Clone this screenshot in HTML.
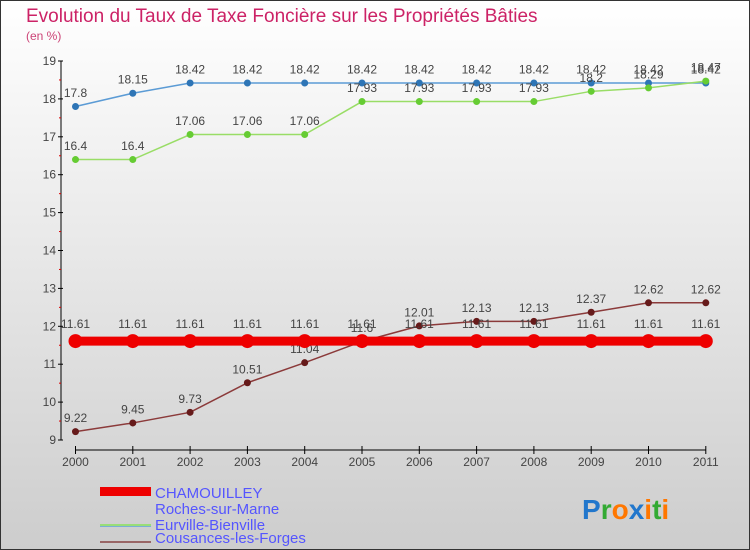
<!DOCTYPE html>
<html><head><meta charset="utf-8"><style>
body{margin:0;width:750px;height:550px;overflow:hidden}
svg{display:block;font-family:"Liberation Sans",sans-serif}
</style></head><body>
<svg width="750" height="550">
<defs><linearGradient id="bg" x1="0" y1="0" x2="0" y2="1"><stop offset="0" stop-color="#ffffff"/><stop offset="1" stop-color="#cdcdcd"/></linearGradient></defs>
<rect x="0.5" y="0.5" width="749" height="549" fill="url(#bg)" stroke="#333"/>
<text x="26" y="22" font-size="19" fill="#cc2266">Evolution du Taux de Taxe Foncière sur les Propriétés Bâties</text>
<text x="26" y="40" font-size="12" fill="#cc4477">(en %)</text>
<g id="axes"></g><g id="series"></g>
<g>
<rect x="100" y="487" width="51" height="9" fill="#ee0000"/>
<text x="155" y="498" font-size="15" fill="#5555ff">CHAMOUILLEY</text>
<line x1="100" y1="546" x2="151" y2="546" stroke="#7aaed6" stroke-width="2" transform="translate(0,-20)"/>
<text x="155" y="514" font-size="15" fill="#5555ff">Roches-sur-Marne</text>
<line x1="100" y1="528" x2="151" y2="528" stroke="#99dd77" stroke-width="2" transform="translate(0,-3)"/>
<text x="155" y="530" font-size="15" fill="#5555ff">Eurville-Bienville</text>
<line x1="100" y1="543" x2="151" y2="543" stroke="#996666" stroke-width="2" transform="translate(0,-1)"/>
<text x="155" y="543" font-size="15" fill="#5555ff">Cousances-les-Forges</text>
</g>
<text x="582" y="519" font-size="28" font-weight="bold"><tspan fill="#2277cc">P</tspan><tspan fill="#33aa33">r</tspan><tspan fill="#ff7700">o</tspan><tspan fill="#2277cc">x</tspan><tspan fill="#ff7700">i</tspan><tspan fill="#33aa33">t</tspan><tspan fill="#ff7700">i</tspan></text>
</svg>
<script>
const years=[2000,2001,2002,2003,2004,2005,2006,2007,2008,2009,2010,2011];
const yTicks=[9,10,11,12,13,14,15,16,17,18,19];
const chamouilley=[11.61,11.61,11.61,11.61,11.61,11.61,11.61,11.61,11.61,11.61,11.61,11.61];
const roches=[17.8,18.15,18.42,18.42,18.42,18.42,18.42,18.42,18.42,18.42,18.42,18.42];
const eurville=[16.4,16.4,17.06,17.06,17.06,17.93,17.93,17.93,17.93,18.2,18.29,18.47];
const cousances=[9.22,9.45,9.73,10.51,11.04,11.6,12.01,12.13,12.13,12.37,12.62,12.62];
const NS="http://www.w3.org/2000/svg";
const xs=i=>75.5+i*57.3;
const ys=v=>440-(v-9)*37.9;
function mk(t,a,p){const e=document.createElementNS(NS,t);for(const k in a)e.setAttribute(k,a[k]);p.appendChild(e);return e;}
const ax=document.getElementById('axes');
let yl=mk('line',{x1:61,y1:61,x2:61,y2:440,stroke:'#000'},ax);


yTicks.forEach(v=>{
 mk('line',{x1:58,y1:ys(v),x2:63,y2:ys(v),stroke:'#000'},ax);
 if(v<19) mk('line',{x1:59,y1:ys(v+0.5),x2:61,y2:ys(v+0.5),stroke:'#d00'},ax);
 const t=mk('text',{x:56,y:ys(v)+4,'font-size':12,fill:'#444','text-anchor':'end'},ax);
 t.textContent=v;
 
 
});
let xl=mk('line',{x1:75,y1:450,x2:706,y2:450,stroke:'#000'},ax);


years.forEach((y,i)=>{
 mk('line',{x1:xs(i),y1:446,x2:xs(i),y2:454,stroke:'#000'},ax);
 const t=mk('text',{x:xs(i),y:466,'font-size':12,fill:'#444','text-anchor':'middle'},ax);
 t.textContent=y;
 
 
});
const sg=document.getElementById('series');
function series(name,vals,color,w,r,dot){
 const g=mk('g',{},sg);
 
 
 mk('polyline',{points:vals.map((v,i)=>xs(i)+','+ys(v)).join(' '),fill:'none',stroke:color,'stroke-width':w},g);
 vals.forEach((v,i)=>{
  const c=mk('circle',{cx:xs(i),cy:ys(v),r:r,fill:dot},g);
  
  
  const t=mk('text',{x:xs(i),y:ys(v)-(r+6),'font-size':12,fill:'#444','text-anchor':'middle'},g);
  t.textContent=v;
  
  
 });
}
series('roches',roches,'#5b9bd5',1.5,3.5,'#2e75b6');
series('eurville',eurville,'#99dd66',1.5,3.5,'#66cc33');
series('cousances',cousances,'#8b3a3a',1.5,3.5,'#661a1a');
series('chamouilley',chamouilley,'#ee0000',9,7,'#ee0000');
</script>
</body></html>
